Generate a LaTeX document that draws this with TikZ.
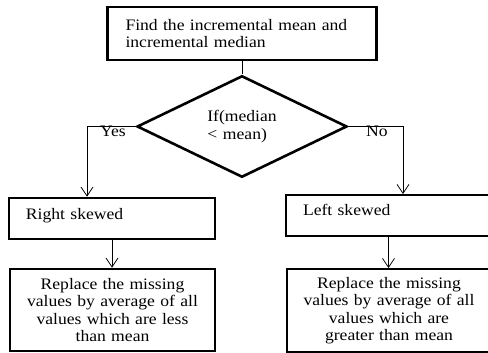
\documentclass[tikz,border=0pt]{standalone}
\usepackage{fontspec}
\setmainfont[FakeStretch=1.1,WordSpace=1.3]{Liberation Serif}
\usetikzlibrary{shapes.geometric,arrows.meta}
\begin{document}
\begin{tikzpicture}[x=1pt,y=-1pt,
    font=\fontsize{16}{17.5}\selectfont,
    box/.style={draw,line width=2.6pt,inner sep=0pt},
    thinbox/.style={draw,line width=1.8pt,inner sep=0pt},
    cond/.style={draw,diamond,line width=2.6pt,inner sep=0pt,
      minimum width=210pt,minimum height=95pt,align=left},
    link/.style={line width=0.8pt},
    arrow/.style={link,-{Straight Barb[length=9pt,width=12pt]}}]
      \clip (0,0) rectangle (488,353);
      \draw
        (242,33.5) node[box,minimum width=269pt,minimum height=53pt,
          text width=233pt,align=left] (find){Find the incremental\ mean and\\incremental\ median}
        (242,126.5) node[cond] (test){If(median\\< mean)}
        (112,218.5) node[box,minimum width=206pt,minimum height=41pt,
          text width=172pt,align=left,text depth=10pt] (right){Right skewed}
        (388.5,215.5) node[thinbox,minimum width=205pt,minimum height=41pt,
          text width=171pt,align=left,text depth=12pt] (left){Left skewed}
        (112.5,310) node[box,minimum width=205pt,minimum height=82pt,
          text width=194pt,align=center] (rfill){Replace\ the missing\\values by average of all\\values which are less\\than mean}
        (389,310.5) node[thinbox,minimum width=204pt,minimum height=83pt,
          text width=194pt,align=center] (lfill){Replace the missing\\values by average of all\\values which are\\greater than mean}
        (113,131) node (yes){Yes}
        (377,131) node (no){No};
      \coordinate (yesturn) at (87,126.5);
      \coordinate (noturn) at (403,126.5);
      \begin{scope}[link]
        \draw (find) to (test);
        \draw[arrow] (test.west) -- (yesturn) -- (yesturn |- right.north);
        \draw[arrow] (test.east) -- (noturn) -- (noturn |- left.north);
        \draw[arrow] (right.south) -- (right.south |- rfill.north);
        \draw[arrow] (left.south) -- (left.south |- lfill.north);
      \end{scope}
    \end{tikzpicture}
\end{document}
